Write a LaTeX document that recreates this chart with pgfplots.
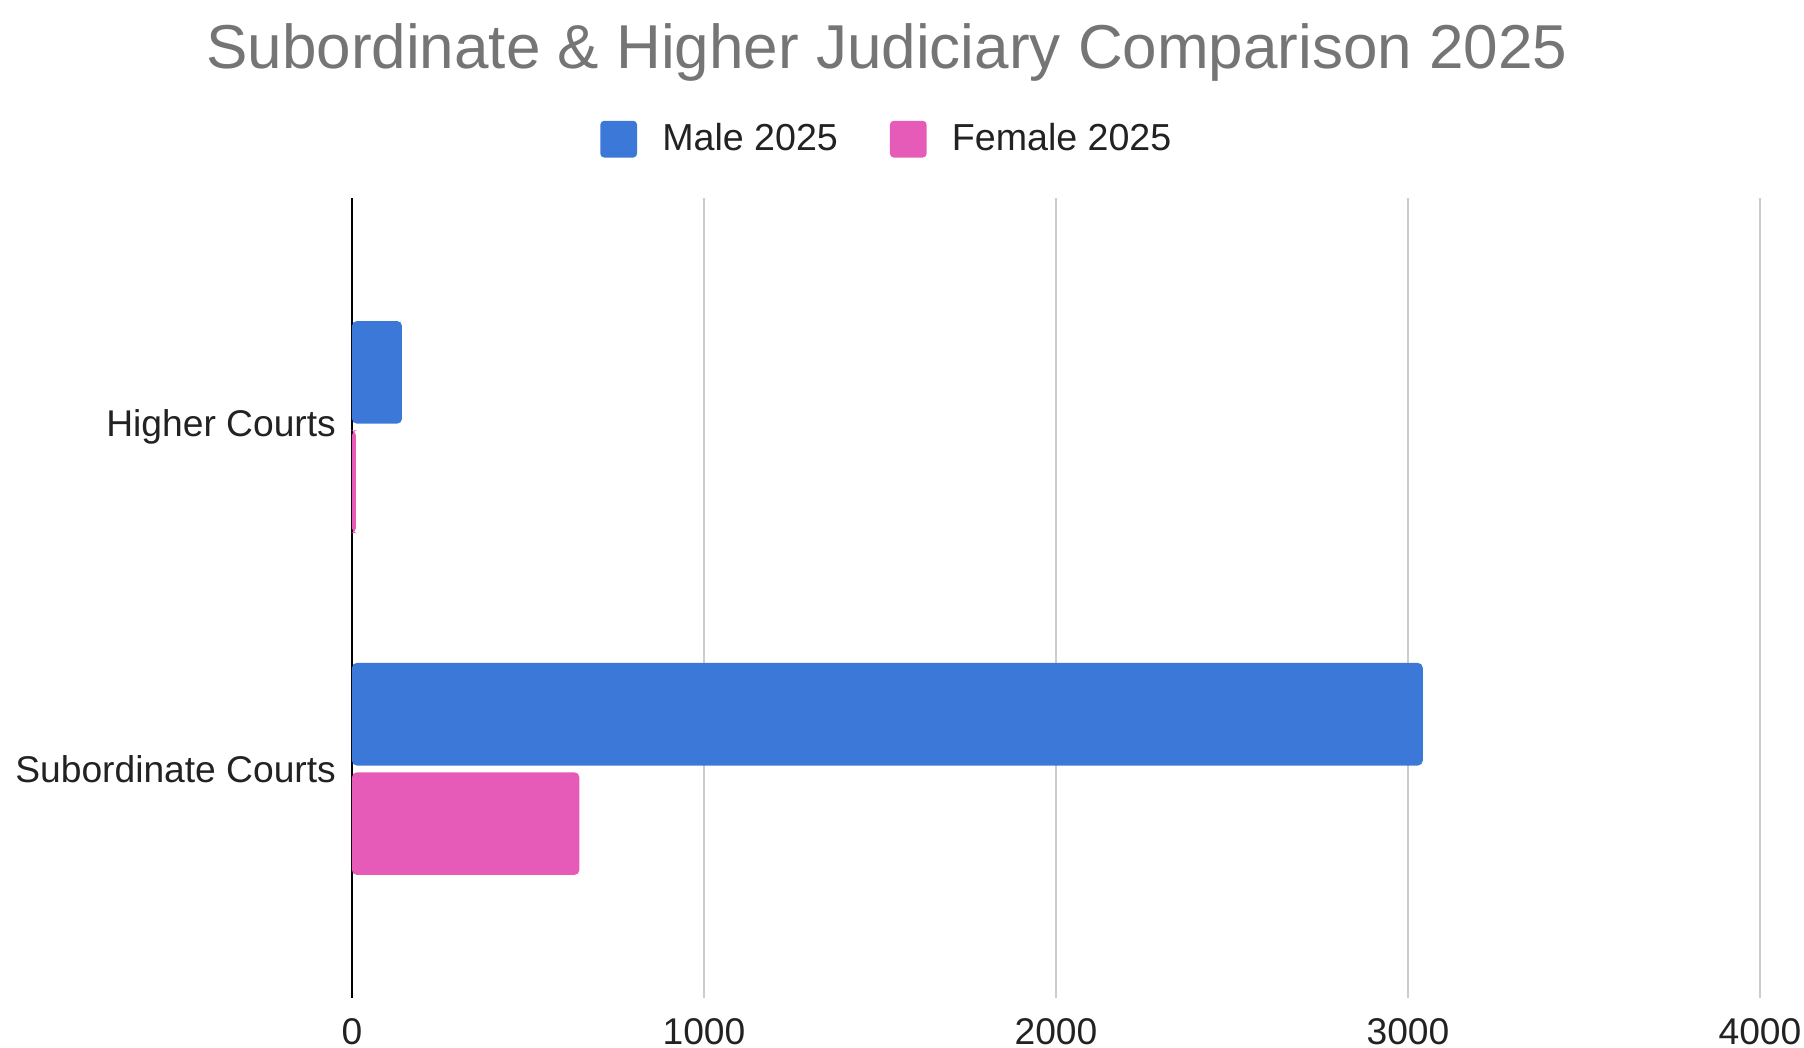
\documentclass[border=0pt]{standalone}
\usepackage{fontspec}
\setmainfont{Liberation Sans}
\usepackage{pgfplots}
\pgfplotsset{compat=1.18}

\definecolor{maleblue}{HTML}{3C78D8}
\definecolor{femalepink}{HTML}{E55BB7}
\definecolor{titlegray}{HTML}{757575}
\definecolor{gridgray}{HTML}{CCCCCC}
\definecolor{textdark}{HTML}{222222}

\begin{document}
\begin{tikzpicture}
\begin{axis}[
  at={(0pt,0pt)}, anchor=south west,
  scale only axis,
  width=352pt, height=200pt,
  xbar,
  xmin=0, xmax=4000,
  ymin=-0.67, ymax=1.67,
  bar width=0.30,
  axis line style={draw=none},
  xtick={1000,2000,3000,4000},
  extra x ticks={0},
  extra x tick style={grid style={black, line width=0.7pt}},
  xmajorgrids,
  grid style={gridgray, line width=0.5pt},
  major tick length=0pt,
  ytick={0,1},
  yticklabels={Subordinate Courts, Higher Courts},
  tick label style={font=\fontsize{9.3}{11}\selectfont, text=textdark},
  /pgf/number format/assume math mode=true,
  /pgf/number format/1000 sep={},
  xticklabel style={yshift=-1.6pt},
  yticklabel style={xshift=-0.5pt},
  legend style={draw=none, at={(0.382,1.072)}, anchor=center,
    legend columns=2, font=\fontsize{9.4}{11}\selectfont, text=textdark,
    /tikz/every even column/.append style={column sep=11pt}},
  legend image code/.code={%
    \fill[#1, draw=none, rounded corners=1pt] (0pt,-4.3pt) rectangle (9.2pt,4.9pt);
    \path (13.5pt,0pt);},
  clip=false,
]
\addplot[draw=none, fill=maleblue, rounded corners=1.2pt, bar shift=0.16]
  coordinates {(3042,0) (142,1)};
\addplot[draw=none, fill=femalepink, rounded corners=1.2pt, bar shift=-0.16]
  coordinates {(646,0) (11,1)};
\legend{Male 2025, Female 2025}
\end{axis}
\node[text=titlegray, font=\fontsize{15.5}{18}\selectfont] at (133.75pt,236.3pt)
  {Subordinate \& Higher Judiciary Comparison 2025};
\pgfresetboundingbox
\useasboundingbox (-88pt,-12.5pt) rectangle (363pt,249.5pt);
\end{tikzpicture}
\end{document}
